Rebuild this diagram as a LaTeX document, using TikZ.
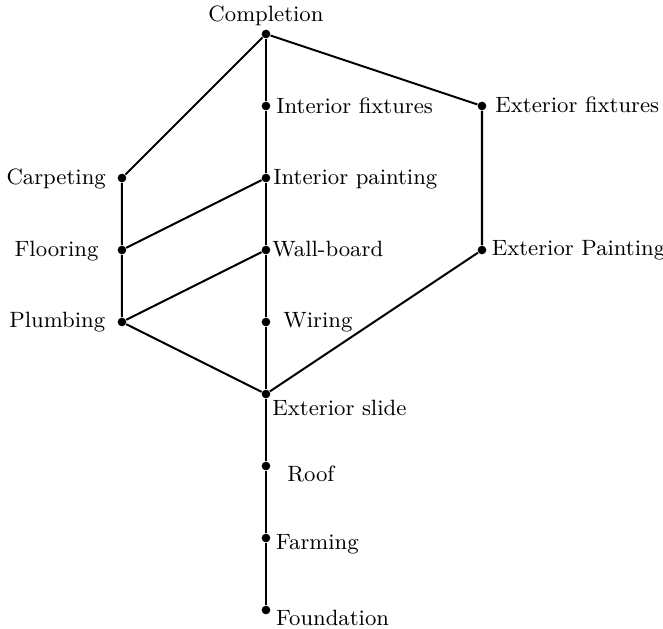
\documentclass[tikz,border=0pt]{standalone}
\usepackage{tikz}
\usetikzlibrary{positioning}

\tikzset{
    dot/.style={circle, fill=black, inner sep=0pt, minimum size=0.12cm},
    lbl/.style={inner sep=0pt, font=\fontsize{8.75}{10.5}\selectfont},
    edge/.style={thick}
}

\begin{document}
\begin{tikzpicture}
    \useasboundingbox (-3.694,-0.25) rectangle (5.514,8.472);

    % Elements of the order
    \foreach \n/\x/\y in {found/0/0, farm/0/1, roof/0/2, slide/0/3, wiring/0/4,
                          wall/0/5, ipaint/0/6, ifix/0/7, comp/0/8,
                          plumb/-2/4, floor/-2/5, carpet/-2/6,
                          epaint/3/5, efix/3/7} {
        \node[dot] (\n) at (\x,\y) {};
    }

    % Labels
    \node[lbl, anchor=base] (tcomp) at (0,8.167) {Completion};
    \node[lbl, anchor=base west] (tifix) at (0.139,6.89) {Interior fixtures};
    \node[lbl, anchor=base west] (tipaint) at (0.097,5.907) {Interior painting};
    \node[lbl, anchor=base west] (twall) at (0.083,4.907) {Wall-board};
    \node[lbl, anchor=base west] (twiring) at (0.236,3.917) {Wiring};
    \node[lbl, anchor=base west] (tslide) at (0.083,2.7) {Exterior slide};
    \node[lbl, anchor=base west] (troof) at (0.29,1.79) {Roof};
    \node[lbl, anchor=base west] (tfarm) at (0.135,0.838) {Farming};
    \node[lbl, anchor=base west] (tfound) at (0.135,-0.21) {Foundation};
    \node[lbl, anchor=base west] (tefix) at (3.18,6.912) {Exterior fixtures};
    \node[lbl, anchor=base west] (tepaint) at (3.13,4.93) {Exterior Painting};
    \node[lbl, anchor=base east] (tcarpet) at (-2.217,5.907) {Carpeting};
    \node[lbl, anchor=base east] (tfloor) at (-2.32,4.907) {Flooring};
    \node[lbl, anchor=base east] (tplumb) at (-2.226,3.917) {Plumbing};

    % Cover relations
    \draw[edge] (found) -- (farm) -- (roof) -- (slide) -- (wiring) -- (wall)
        -- (ipaint) -- (ifix) -- (comp);
    \draw[edge] (comp) -- (carpet) -- (floor) -- (plumb) -- (slide);
    \draw[edge] (floor) -- (ipaint);
    \draw[edge] (plumb) -- (wall);
    \draw[edge] (slide) -- (epaint) -- (efix) -- (comp);
\end{tikzpicture}
\end{document}
